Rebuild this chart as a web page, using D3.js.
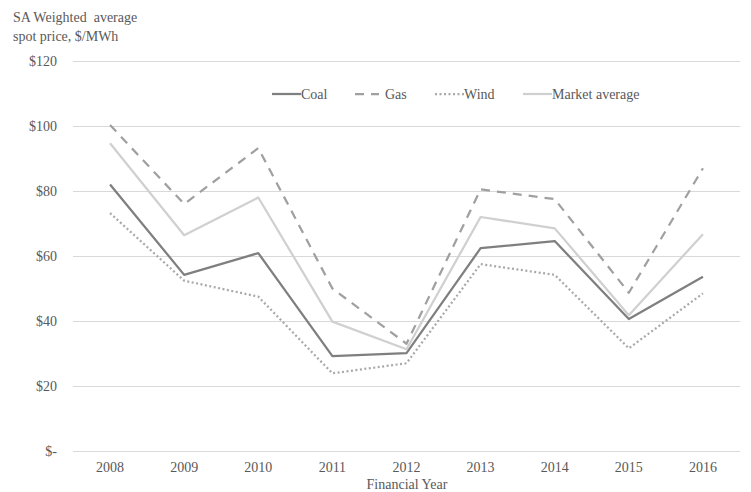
<!DOCTYPE html>
<html>
<head>
<meta charset="utf-8">
<script src="https://cdn.jsdelivr.net/npm/d3@7"></script>
<style>
  body { margin: 0; background: #fff; }
  text { font-family: "Liberation Serif", "Times New Roman", serif; fill: #595959; white-space: pre; }
</style>
</head>
<body>
<svg id="chart"></svg>
<script>
// Data
const years = ['2008', '2009', '2010', '2011', '2012', '2013', '2014', '2015', '2016'];
const coal = [82, 54.2, 60.9, 29.2, 30.1, 62.4, 64.6, 40.6, 53.6];
const gas = [100.3, 76, 93.2, 50, 33, 80.5, 77.5, 48.7, 87];
const wind = [73.2, 52.4, 47.5, 23.9, 27, 57.5, 54.2, 31.6, 48.5];
const market = [94.7, 66.4, 78, 39.8, 31.3, 72, 68.5, 41.8, 66.7];
const yTicks = [0, 20, 40, 60, 80, 100, 120];

const width = 751;
const height = 492;
const margin = { top: 61, right: 11, bottom: 41, left: 73 };

const series = [
  { name: 'Coal', values: coal, color: '#7f7f7f', dash: null },
  { name: 'Gas', values: gas, color: '#a0a0a0', dash: '9,7' },
  { name: 'Wind', values: wind, color: '#a9a9a9', dash: '2,2.5' },
  { name: 'Market average', values: market, color: '#d0d0d0', dash: null },
];

const svg = d3.select('#chart')
  .attr('width', width)
  .attr('height', height);

// Scales
const x = d3.scaleBand()
  .domain(years)
  .range([margin.left, width - margin.right]);

const y = d3.scaleLinear()
  .domain([0, 120])
  .range([height - margin.bottom, margin.top]);

// Gridlines
svg.append('g')
  .selectAll('line')
  .data(yTicks)
  .join('line')
  .attr('x1', margin.left)
  .attr('x2', width - margin.right)
  .attr('y1', (d) => y(d) + 0.5)
  .attr('y2', (d) => y(d) + 0.5)
  .attr('stroke', '#d9d9d9')
  .attr('stroke-width', 1);

// Y axis labels
svg.append('g')
  .selectAll('text')
  .data(yTicks)
  .join('text')
  .attr('x', 57)
  .attr('y', (d) => y(d))
  .attr('dy', '0.35em')
  .style('text-anchor', 'end')
  .style('font-size', '14px')
  .text((d) => (d === 0 ? '$-' : '$' + d));

// X axis labels
svg.append('g')
  .selectAll('text')
  .data(years)
  .join('text')
  .attr('x', (d) => x(d) + x.bandwidth() / 2)
  .attr('y', 472)
  .style('text-anchor', 'middle')
  .style('font-size', '14px')
  .text((d) => d);

svg.append('text')
  .attr('x', 407)
  .attr('y', 489)
  .style('text-anchor', 'middle')
  .style('font-size', '14px')
  .text('Financial Year');

// Title
svg.append('text')
  .attr('x', 13)
  .attr('y', 22)
  .style('font-size', '14px')
  .text('SA Weighted  average');
svg.append('text')
  .attr('x', 13)
  .attr('y', 41)
  .style('font-size', '14px')
  .text('spot price, $/MWh');

// Lines
const line = d3.line()
  .x((d, i) => x(years[i]) + x.bandwidth() / 2)
  .y((d) => y(d));

svg.append('g')
  .selectAll('path')
  .data(series)
  .join('path')
  .attr('d', (d) => line(d.values))
  .attr('fill', 'none')
  .attr('stroke', (d) => d.color)
  .attr('stroke-width', 2.25)
  .attr('stroke-dasharray', (d) => d.dash)
  .attr('stroke-linejoin', 'round');

// Legend
const legendX = [272, 355, 435, 523];
const legend = svg.append('g')
  .selectAll('g')
  .data(series)
  .join('g')
  .attr('transform', (d, i) => `translate(${legendX[i]}, 94)`);

legend.append('line')
  .attr('x1', 0)
  .attr('x2', (d, i) => (i === 1 ? 24 : 29))
  .attr('stroke', (d) => d.color)
  .attr('stroke-width', 2.25)
  .attr('stroke-dasharray', (d) => d.dash);

legend.append('text')
  .attr('x', (d, i) => (i === 1 ? 30 : 29))
  .attr('dy', '0.35em')
  .style('font-size', '14px')
  .text((d) => d.name);
</script>
</body>
</html>
